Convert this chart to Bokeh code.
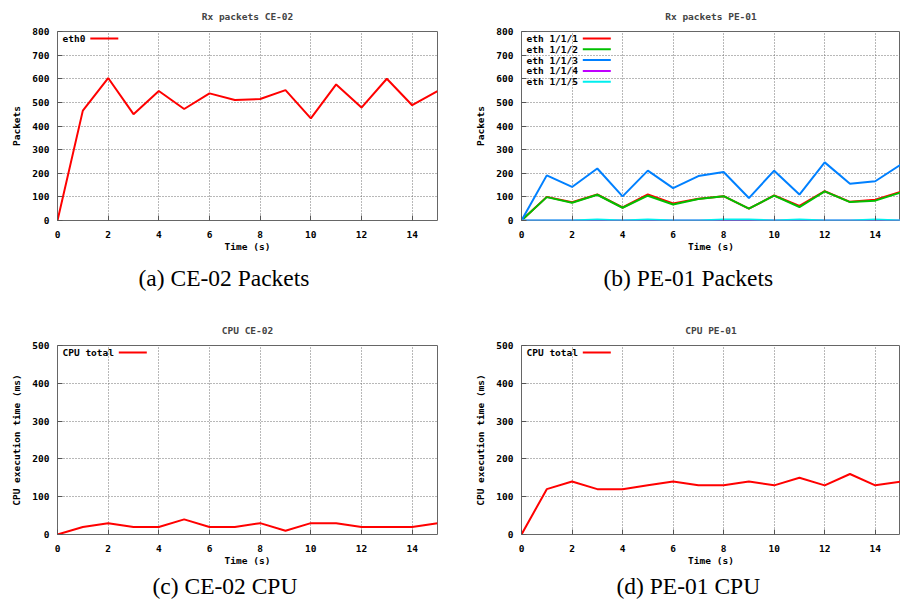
from bokeh.plotting import figure
from bokeh.layouts import gridplot
from bokeh.models import Range1d, SingleIntervalTicker, Label, Arrow, Title
from bokeh.embed import file_html
from bokeh.resources import INLINE

# ---- data ----
time_s = [0, 1, 2, 3, 4, 5, 6, 7, 8, 9, 10, 11, 12, 13, 14, 15]
ce02_eth0 = [0, 465, 603, 450, 548, 472, 538, 510, 514, 552, 432, 576, 478, 600, 488, 548]
pe01_eth111 = [0, 100, 77, 110, 55, 110, 72, 92, 103, 50, 106, 62, 124, 79, 88, 121]
pe01_eth112 = [0, 99, 75, 109, 54, 105, 68, 91, 103, 50, 105, 57, 123, 78, 84, 118]
pe01_eth113 = [0, 191, 142, 220, 102, 211, 137, 188, 205, 95, 211, 110, 246, 156, 166, 236]
pe01_eth114 = [0, 0, 0, 0, 0, 0, 0, 0, 0, 0, 0, 0, 0, 0, 0, 0]
pe01_eth115 = [0, 0, 0, 4, 0, 4, 0, 0, 4, 4, 0, 4, 0, 0, 4, 0]
ce02_cpu = [0, 20, 30, 20, 20, 40, 20, 20, 30, 10, 30, 30, 20, 20, 20, 30]
pe01_cpu = [0, 120, 140, 120, 120, 130, 140, 130, 130, 140, 130, 150, 130, 160, 130, 140]

pe01_labels = ["eth 1/1/1", "eth 1/1/2", "eth 1/1/3", "eth 1/1/4", "eth 1/1/5"]
pe01_colors = ["#ff0000", "#00c000", "#0080ff", "#c000ff", "#00eeee"]

MONO = "DejaVu Sans Mono"
SERIF = "Liberation Serif"
FS = "9.5px"
CHAR_W = 5.7


def make_fig(title, caption, cap_offset, cap_standoff, ylabel, ymax, width, height,
             left, right, top, bottom, series, labels, colors):
    p = figure(width=width, height=height, output_backend="svg", toolbar_location=None,
               x_range=Range1d(0, 15), y_range=Range1d(0, ymax),
               min_border_left=left, min_border_right=right,
               min_border_top=top, min_border_bottom=bottom)
    p.title.text = title
    p.title.align = "center"
    p.title.vertical_align = "middle"
    p.title.text_font = MONO
    p.title.text_font_size = FS
    p.title.text_font_style = "bold"
    p.title.standoff = 17

    p.xaxis.ticker = SingleIntervalTicker(interval=2)
    p.yaxis.ticker = SingleIntervalTicker(interval=100)
    for ax in (p.xaxis[0], p.yaxis[0]):
        ax.axis_line_color = None
        ax.major_tick_in = 5
        ax.major_tick_out = 0
        ax.major_tick_line_color = "#555555"
        ax.minor_tick_line_color = None
        ax.major_label_text_font = MONO
        ax.major_label_text_font_size = FS
        ax.major_label_text_font_style = "bold"
        ax.major_label_text_color = "#000000"
        ax.axis_label_text_font = MONO
        ax.axis_label_text_font_size = FS
        ax.axis_label_text_font_style = "bold"
        ax.axis_label_text_color = "#000000"
    p.xaxis.axis_label = "Time (s)"
    p.xaxis.major_label_standoff = 6
    p.xaxis.axis_label_standoff = 0
    p.yaxis.axis_label = ylabel
    p.yaxis.major_label_standoff = 4
    p.yaxis.axis_label_standoff = 7

    p.grid.grid_line_color = "#707070"
    p.grid.grid_line_dash = "1 2"
    p.grid.grid_line_width = 1
    p.outline_line_color = "#666666"
    p.outline_line_width = 1
    p.background_fill_color = "white"
    p.border_fill_color = "white"

    for ys, col in zip(series, colors):
        p.line(time_s, ys, line_color=col, line_width=2)

    frame_h = height - top - bottom
    x0 = 5 + max(len(s) for s in labels) * CHAR_W + 5
    for i, (lab, col) in enumerate(zip(labels, colors)):
        yy = frame_h - 7 - i * 10.8
        p.add_layout(Label(x=5, y=yy, x_units="screen", y_units="screen", text=lab,
                           text_font=MONO, text_font_style="bold", text_font_size=FS,
                           text_baseline="middle", text_color="#000000"))
        p.add_layout(Arrow(x_start=x0, y_start=yy, x_end=x0 + 28, y_end=yy,
                           start_units="screen", end_units="screen", start=None, end=None,
                           line_color=col, line_width=2))

    # sub-figure caption below the chart
    cap = Title(text=caption, align="left", offset=cap_offset, standoff=cap_standoff,
                text_font=SERIF, text_font_size="23.5px", text_font_style="normal",
                text_color="#000000")
    p.add_layout(cap, "below")
    return p


p1 = make_fig("Rx packets CE-02", "(a) CE-02 Packets", 81, 17, "Packets", 800, 450, 300,
              57, 13, 31, 80, [ce02_eth0], ["eth0"], ["#ff0000"])
p2 = make_fig("Rx packets PE-01", "(b) PE-01 Packets", 82, 17, "Packets", 800, 450, 300,
              71, 0, 31, 80,
              [pe01_eth111, pe01_eth112, pe01_eth113, pe01_eth114, pe01_eth115],
              pe01_labels, pe01_colors)
p3 = make_fig("CPU CE-02", "(c) CE-02 CPU", 95, 5, "CPU execution time (ms)", 500, 450, 302,
              57, 13, 45, 68, [ce02_cpu], ["CPU total"], ["#ff0000"])
p4 = make_fig("CPU PE-01", "(d) PE-01 CPU", 95, 5, "CPU execution time (ms)", 500, 450, 302,
              71, 0, 45, 68, [pe01_cpu], ["CPU total"], ["#ff0000"])

grid = gridplot([[p1, p2], [p3, p4]], toolbar_location=None)
open("out.html", "w").write(file_html(grid, INLINE))
